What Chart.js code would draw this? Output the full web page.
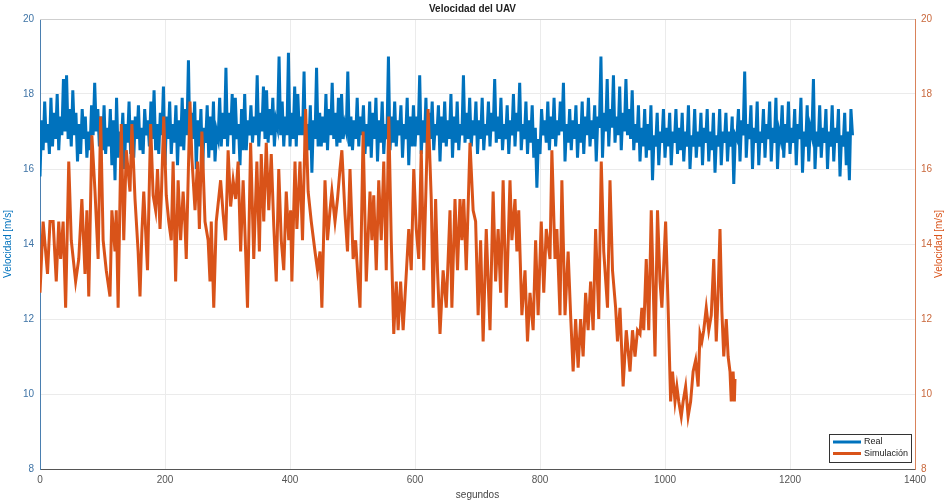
<!DOCTYPE html>
<html>
<head>
<meta charset="utf-8">
<script src="https://cdn.jsdelivr.net/npm/chart.js@4/dist/chart.umd.min.js"></script>
<style>
  html, body { margin: 0; padding: 0; background: #fff; }
  #wrap { width: 945px; height: 501px; }
</style>
</head>
<body>
<div id="wrap"><canvas id="chart" width="945" height="501"></canvas></div>
<script>
// Real UAV speed, one sample every 2.5 s
const REAL_DT = 2.5;
const realSpeed = [
  15.8, 17.3, 16.5, 17.8, 16.7, 17.2, 16.4, 17.9, 16.6, 17.5, 16.8, 18.0, 16.5, 17.4, 16.9, 18.4, 17.0, 18.5, 16.8, 17.6,
  16.6, 18.1, 16.9, 17.5, 16.2, 17.2, 16.4, 17.6, 16.8, 17.4, 16.3, 17.0, 16.5, 17.7, 16.9, 18.3, 17.0, 17.6, 16.6, 17.4,
  16.5, 17.7, 16.4, 17.1, 16.6, 17.6, 16.1, 17.3, 15.7, 17.9, 16.3, 17.0, 16.6, 17.5, 16.0, 17.2, 16.7, 17.8, 16.4, 17.3,
  16.3, 17.4, 16.8, 17.7, 16.5, 17.1, 16.4, 17.6, 16.9, 17.3, 16.6, 17.8, 16.8, 18.1, 16.5, 17.2, 16.4, 17.5, 16.9, 18.2,
  16.1, 17.4, 16.8, 17.8, 16.4, 17.2, 16.7, 17.7, 16.1, 17.3, 16.6, 17.9, 16.5, 17.6, 16.9, 18.9, 16.4, 17.5, 16.8, 17.8,
  16.0, 17.3, 16.6, 17.6, 15.9, 17.1, 16.7, 17.7, 16.3, 17.4, 16.5, 17.8, 16.2, 17.0, 16.8, 17.9, 16.6, 17.5, 16.8, 18.7,
  16.6, 17.5, 16.9, 18.0, 16.4, 17.9, 16.8, 17.2, 16.1, 17.6, 16.5, 18.0, 16.5, 17.3, 16.9, 17.7, 16.7, 17.4, 16.9, 18.5,
  16.6, 17.5, 17.0, 18.2, 16.8, 18.1, 16.7, 17.6, 16.9, 17.9, 16.6, 17.3, 17.1, 19.0, 16.9, 17.8, 16.6, 17.4, 16.9, 19.1,
  16.6, 17.5, 16.8, 18.2, 16.6, 18.0, 16.9, 17.4, 16.9, 18.6, 16.3, 17.2, 16.5, 17.7, 15.9, 17.3, 16.8, 18.7, 16.6, 17.5,
  16.6, 17.4, 16.7, 18.0, 16.5, 17.6, 16.9, 18.3, 16.8, 17.5, 16.6, 17.9, 16.7, 18.0, 16.8, 17.2, 17.0, 18.6, 16.6, 17.4,
  16.5, 17.3, 16.8, 17.9, 16.6, 17.4, 16.9, 17.7, 16.4, 17.2, 16.6, 17.8, 16.3, 17.5, 16.8, 17.9, 16.2, 17.3, 16.7, 17.8,
  16.4, 17.2, 16.8, 19.0, 16.5, 17.4, 16.7, 17.8, 16.6, 17.3, 16.9, 17.7, 16.3, 17.2, 16.8, 17.9, 16.1, 17.4, 16.6, 17.7,
  16.6, 17.4, 16.9, 18.5, 16.4, 17.3, 16.7, 17.9, 16.3, 17.5, 16.8, 17.8, 16.5, 17.2, 16.9, 17.7, 16.2, 17.4, 16.7, 17.8,
  16.6, 17.3, 16.8, 18.0, 16.3, 17.4, 16.7, 17.8, 16.5, 17.2, 16.9, 18.5, 16.7, 17.5, 16.8, 17.9, 16.6, 17.3, 16.9, 17.8,
  16.4, 17.3, 16.8, 17.9, 16.5, 17.2, 16.9, 17.8, 16.6, 17.5, 17.0, 18.4, 16.7, 17.4, 16.8, 17.9, 16.5, 17.2, 16.8, 17.7,
  16.4, 17.3, 16.9, 18.0, 16.6, 17.5, 17.0, 18.3, 16.5, 17.2, 16.8, 17.8, 16.4, 17.3, 16.7, 17.7, 16.3, 17.1, 15.5, 16.8,
  16.4, 17.6, 16.9, 17.3, 16.7, 17.8, 16.5, 17.4, 16.8, 17.9, 16.6, 17.3, 16.9, 17.8, 17.0, 18.3, 16.2, 17.2, 16.7, 17.6,
  16.5, 17.3, 16.8, 17.7, 16.3, 17.2, 16.7, 17.8, 16.4, 17.4, 16.9, 17.9, 16.6, 17.3, 16.8, 17.7, 16.2, 17.4, 17.1, 19.0,
  16.3, 17.5, 17.0, 18.4, 16.6, 17.6, 17.1, 18.5, 16.7, 17.4, 16.9, 18.2, 16.5, 17.5, 17.0, 18.4, 16.9, 17.6, 16.8, 18.1,
  16.5, 17.2, 16.7, 17.7, 16.2, 17.1, 16.6, 17.6, 16.3, 17.2, 16.5, 17.7, 15.7, 16.9, 16.6, 17.5, 16.1, 17.0, 16.7, 17.6,
  16.3, 17.1, 16.6, 17.5, 16.1, 17.0, 16.7, 17.6, 16.4, 17.1, 16.5, 17.5, 16.2, 17.0, 16.6, 17.7, 16.0, 16.9, 16.6, 17.6,
  16.3, 17.0, 16.6, 17.5, 16.1, 17.1, 16.7, 17.6, 16.2, 17.0, 16.5, 17.5, 15.9, 16.9, 16.6, 17.6, 16.1, 17.0, 16.7, 17.5,
  16.2, 17.0, 16.6, 17.4, 15.6, 16.9, 16.8, 17.6, 16.2, 17.3, 16.9, 18.6, 16.3, 17.2, 16.8, 17.7, 16.0, 17.1, 16.7, 17.8,
  16.1, 17.0, 16.7, 17.6, 16.3, 17.2, 16.8, 17.8, 16.2, 17.1, 16.7, 17.9, 16.0, 17.0, 16.8, 17.7, 16.3, 17.2, 16.7, 17.8,
  16.4, 17.1, 16.7, 17.6, 16.1, 17.2, 16.8, 17.9, 15.9, 17.0, 16.6, 17.7, 16.2, 17.1, 16.9, 18.4, 16.0, 17.0, 16.6, 17.7,
  16.3, 17.1, 16.7, 17.6, 16.0, 17.0, 16.6, 17.7, 16.2, 17.1, 16.7, 17.6, 15.8, 16.9, 16.6, 17.5, 16.1, 17.0, 15.7, 17.6,
  16.9
];

// Simulated speed (time in s)
const simTime = [
  0, 5, 12, 16, 21, 26, 30, 33, 37, 41, 46, 50, 57, 62, 67, 72, 75, 78, 83, 88,
  93, 97, 101, 106, 112, 115, 120, 122, 125, 130, 134, 138, 144, 147, 152, 157, 160, 163, 166, 172,
  177, 181, 185, 188, 192, 194, 198, 202, 206, 210, 213, 217, 221, 225, 229, 232, 234, 240, 243, 248,
  252, 255, 259, 264, 269, 272, 274, 278, 282, 289, 293, 297, 301, 305, 309, 313, 317, 321, 325, 329,
  332, 337, 342, 347, 351, 354, 358, 362, 366, 370, 374, 378, 382, 386, 390, 394, 398, 401, 403, 408,
  411, 416, 420, 425, 429, 434, 440, 444, 448, 451, 456, 460, 464, 467, 472, 476, 480, 483, 488, 492,
  496, 501, 505, 509, 512, 517, 522, 528, 531, 534, 538, 542, 546, 550, 554, 558, 562, 566, 570, 573,
  577, 581, 585, 590, 594, 598, 602, 606, 610, 614, 621, 626, 629, 633, 636, 640, 645, 650, 656, 659,
  664, 668, 672, 675, 678, 682, 688, 693, 697, 701, 705, 709, 714, 720, 725, 729, 733, 737, 741, 746,
  752, 755, 760, 763, 766, 771, 776, 780, 784, 789, 793, 797, 802, 806, 810, 816, 819, 824, 827, 832,
  835, 840, 845, 849, 853, 857, 861, 865, 869, 873, 877, 881, 885, 889, 894, 898, 902, 908, 912, 916,
  921, 924, 928, 933, 938, 944, 948, 952, 956, 960, 963, 966, 970, 974, 978, 984, 988, 992, 995, 1001,
  1005, 1009, 1012, 1016, 1019, 1022, 1026, 1029, 1033, 1037, 1041, 1045, 1049, 1053, 1056, 1059, 1062, 1066, 1070, 1074,
  1078, 1082, 1085, 1088, 1091, 1094, 1098, 1101, 1104, 1106, 1109, 1111, 1112
];
const simSpeed = [
  12.7, 14.6, 13.2, 14.6, 14.6, 13.0, 14.6, 13.6, 14.6, 12.3, 16.2, 14.1, 13.0, 13.6, 15.2, 13.2, 14.9, 12.6, 16.9, 15.4,
  13.6, 17.4, 14.1, 13.3, 12.6, 14.9, 13.8, 14.9, 12.3, 17.2, 14.1, 16.5, 15.4, 17.2, 15.2, 13.8, 12.6, 14.3, 15.4, 13.3,
  17.2, 15.3, 14.9, 16.0, 14.4, 15.2, 17.4, 15.3, 14.6, 14.1, 16.2, 13.0, 15.7, 14.1, 15.4, 14.5, 13.6, 17.8, 16.3, 14.9,
  16.2, 14.4, 17.0, 14.6, 14.1, 13.0, 14.6, 12.3, 14.6, 15.7, 14.8, 14.1, 16.5, 15.0, 15.7, 15.2, 16.2, 13.8, 15.7, 13.8,
  12.3, 16.7, 13.6, 16.2, 13.8, 16.4, 14.6, 16.7, 14.9, 16.4, 14.5, 13.0, 16.0, 14.1, 13.3, 15.4, 14.1, 14.9, 13.0, 16.2,
  14.4, 16.2, 14.1, 17.6, 15.4, 14.6, 13.8, 13.3, 13.8, 12.3, 15.7, 14.1, 14.9, 15.4, 14.6, 15.2, 16.0, 16.5, 14.8, 13.8,
  16.0, 13.6, 14.1, 13.0, 12.3, 17.0, 13.0, 15.4, 14.1, 15.3, 13.3, 15.7, 14.1, 16.2, 13.3, 17.4, 14.1, 11.6, 13.0, 11.7,
  13.0, 11.7, 12.9, 14.4, 13.3, 16.0, 14.4, 13.6, 16.5, 13.3, 17.6, 15.2, 12.3, 15.2, 13.3, 11.6, 13.3, 12.3, 14.9, 12.3,
  15.2, 13.3, 15.2, 14.1, 15.2, 13.3, 16.7, 14.9, 14.6, 12.1, 14.1, 11.4, 14.4, 11.7, 15.4, 13.0, 14.4, 12.7, 15.7, 12.3,
  15.7, 14.1, 15.2, 13.8, 14.9, 12.1, 13.3, 11.4, 12.7, 11.7, 14.1, 12.1, 14.6, 12.7, 14.4, 13.6, 16.5, 13.6, 14.4, 12.1,
  15.7, 12.1, 13.8, 12.1, 10.6, 12.0, 10.7, 12.0, 11.0, 12.7, 11.7, 13.0, 11.7, 14.4, 12.0, 16.2, 13.8, 12.3, 15.7, 13.3,
  12.3, 11.4, 12.3, 10.2, 11.7, 10.6, 11.7, 11.0, 11.7, 11.6, 12.3, 11.7, 13.6, 11.7, 14.9, 11.0, 14.9, 13.0, 12.3, 14.6,
  12.3, 9.8, 10.6, 9.8, 10.2, 9.8, 9.4, 9.8, 10.2, 9.4, 9.8, 10.6, 10.9, 10.2, 11.6, 11.4, 11.7, 12.3, 11.7, 12.1,
  13.6, 11.4, 12.7, 14.4, 12.2, 11.0, 12.0, 11.0, 10.6, 9.8, 10.6, 9.8, 10.4
];

const xTicks = [0, 200, 400, 600, 800, 1000, 1200, 1400];
const yTicks = [8, 10, 12, 14, 16, 18, 20];

const BLUE = '#0072BD';
const ORANGE = '#D95319';
const FONT = "'Liberation Sans', Arial, sans-serif";

const realPoints = realSpeed.map((v, i) => ({ x: i * REAL_DT, y: v }));
const simPoints = simTime.map((t, i) => ({ x: t, y: simSpeed[i] }));

// MATLAB-style extras: top box line, rotated right label, legend inside plot
const extras = {
  id: 'extras',
  afterDraw(chart) {
    const ctx = chart.ctx;
    const a = chart.chartArea;
    ctx.save();
    ctx.strokeStyle = '#cfcfcf';
    ctx.lineWidth = 1;
    ctx.beginPath();
    ctx.moveTo(a.left, a.top + 0.5);
    ctx.lineTo(a.right, a.top + 0.5);
    ctx.stroke();

    // right axis label
    ctx.fillStyle = ORANGE;
    ctx.font = '10px ' + FONT;
    ctx.textAlign = 'center';
    ctx.textBaseline = 'middle';
    ctx.translate(939, (a.top + a.bottom) / 2);
    ctx.rotate(-Math.PI / 2);
    ctx.fillText('Velocidad [m/s]', 0, 0);
    ctx.restore();

    // legend box
    ctx.save();
    const lx = 829, ly = 434, lw = 82, lh = 28;
    ctx.fillStyle = '#fff';
    ctx.fillRect(lx, ly, lw, lh);
    ctx.strokeStyle = '#333';
    ctx.lineWidth = 1;
    ctx.strokeRect(lx + 0.5, ly + 0.5, lw, lh);
    chart.data.datasets.forEach((ds, i) => {
      const y = ly + 8 + i * 11.5;
      ctx.strokeStyle = ds.borderColor;
      ctx.lineWidth = 3;
      ctx.beginPath();
      ctx.moveTo(lx + 4, y);
      ctx.lineTo(lx + 32, y);
      ctx.stroke();
      ctx.fillStyle = '#222';
      ctx.font = '9px ' + FONT;
      ctx.textAlign = 'left';
      ctx.textBaseline = 'middle';
      ctx.fillText(ds.label, lx + 35, y);
    });
    ctx.restore();
  }
};

new Chart(document.getElementById('chart'), {
  type: 'line',
  data: {
    datasets: [
      {
        label: 'Real',
        data: realPoints,
        yAxisID: 'y',
        borderColor: BLUE,
        borderWidth: 3,
        pointRadius: 0,
        tension: 0,
        order: 2
      },
      {
        label: 'Simulación',
        data: simPoints,
        yAxisID: 'y1',
        borderColor: ORANGE,
        borderWidth: 3,
        pointRadius: 0,
        tension: 0,
        order: 1
      }
    ]
  },
  options: {
    responsive: false,
    animation: false,
    layout: { padding: { left: 0, right: 0, top: 0, bottom: 0 } },
    plugins: {
      legend: { display: false },
      tooltip: { enabled: false },
      title: {
        display: true,
        text: 'Velocidad del UAV',
        color: '#222',
        font: { family: FONT, size: 10, weight: 'bold' },
        padding: { top: 3, bottom: 4 }
      }
    },
    scales: {
      x: {
        type: 'linear',
        min: 0,
        max: 1400,
        afterBuildTicks: (s) => { s.ticks = xTicks.map(v => ({ value: v })); },
        afterFit: (s) => { s.height = 32; },
        ticks: { color: '#555', font: { family: FONT, size: 10 }, padding: 5, maxRotation: 0, callback: (v) => String(v) },
        grid: { color: '#ebebeb', drawTicks: false },
        border: { color: '#555' },
        title: {
          display: true,
          text: 'segundos',
          color: '#444',
          font: { family: FONT, size: 10 },
          padding: { top: 0, bottom: 0 }
        }
      },
      y: {
        position: 'left',
        min: 8,
        max: 20,
        afterBuildTicks: (s) => { s.ticks = yTicks.map(v => ({ value: v })); },
        afterFit: (s) => { s.width = 40; },
        ticks: { color: '#3f74a6', font: { family: FONT, size: 10 }, padding: 6, callback: (v) => String(v) },
        grid: { color: '#ebebeb', drawTicks: false },
        border: { color: '#4a7fb0' },
        title: {
          display: true,
          text: 'Velocidad [m/s]',
          color: BLUE,
          font: { family: FONT, size: 10 },
          padding: { top: 2, bottom: 0 }
        }
      },
      y1: {
        position: 'right',
        min: 8,
        max: 20,
        afterBuildTicks: (s) => { s.ticks = yTicks.map(v => ({ value: v })); },
        afterFit: (s) => { s.width = 30; },
        ticks: { color: '#c9683c', font: { family: FONT, size: 10 }, padding: 6, callback: (v) => String(v) },
        grid: { display: false, drawTicks: false },
        border: { color: '#d9825a' }
      }
    }
  },
  plugins: [extras]
});
</script>
</body>
</html>
